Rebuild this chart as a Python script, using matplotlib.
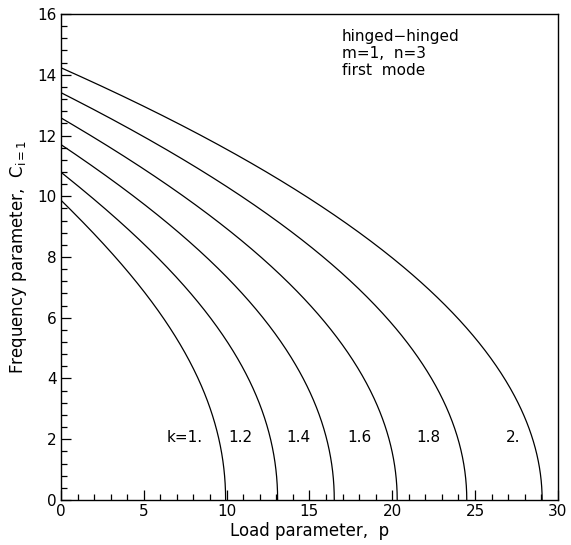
import matplotlib
matplotlib.use("Agg")
import matplotlib.pyplot as plt
import numpy as np
from matplotlib.ticker import MultipleLocator

# k values and curve data: load parameter p vs frequency parameter C
k_labels = ["k=1.", "1.2", "1.4", "1.6", "1.8", "2."]

p_k10 = [0.0, 1.6, 3.26, 6.18, 7.38, 8.29, 9.0, 9.56, 9.85, 9.94]
c_k10 = [9.87, 9.0, 8.0, 6.0, 4.93, 4.0, 3.0, 2.0, 1.0, 0.0]

p_k12 = [0.0, 1.75, 3.8, 5.77, 9.09, 10.3, 11.31, 12.08, 12.7, 12.99, 13.08]
c_k12 = [10.79, 10.0, 9.05, 8.0, 6.0, 4.93, 4.0, 3.0, 2.0, 1.0, 0.0]

p_k14 = [0.0, 2.0, 4.37, 8.79, 12.21, 13.58, 14.63, 15.43, 16.1, 16.4, 16.5]
c_k14 = [11.7, 10.95, 10.0, 8.0, 6.0, 4.93, 4.0, 3.0, 2.0, 1.0, 0.0]

p_k16 = [0.0, 1.65, 4.5, 7.48, 12.11, 15.73, 17.14, 18.3, 19.12, 19.86, 20.19, 20.3]
c_k16 = [12.58, 12.0, 11.05, 10.0, 8.0, 6.0, 4.93, 4.0, 3.0, 2.0, 1.0, 0.0]

p_k18 = [0.0, 2.4, 4.77, 7.8, 10.9, 14.42, 15.83, 19.66, 21.16, 22.35, 23.25, 24.08, 24.4, 24.5]
c_k18 = [13.41, 12.75, 12.0, 11.05, 10.0, 8.68, 8.0, 6.0, 4.93, 4.0, 3.0, 2.0, 1.0, 0.0]

p_k20 = [0.0, 3.0, 6.0, 8.39, 11.4, 14.73, 17.0, 19.96, 22.0, 23.98, 25.5, 26.85, 27.8, 28.55, 28.93, 29.05]
c_k20 = [14.23, 13.55, 12.7, 12.0, 11.15, 10.0, 9.1, 8.0, 7.1, 6.0, 4.93, 4.0, 3.0, 2.0, 1.0, 0.0]

label_p = [7.48, 10.86, 14.33, 18.0, 22.2, 27.28]
label_c = [2.05, 2.05, 2.05, 2.05, 2.05, 2.05]

curves = [(p_k10, c_k10), (p_k12, c_k12), (p_k14, c_k14),
          (p_k16, c_k16), (p_k18, c_k18), (p_k20, c_k20)]


def smooth_path(p, c, n=400):
    """Least-squares smooth drawing path through the read points: p as a function of C,
    with a vertical tangent at C = 0 (terms 1, C^2, C^3, C^4)."""
    p = np.asarray(p, float)
    c = np.asarray(c, float)
    A = np.column_stack([np.ones_like(c), c**2, c**3, c**4])
    w = np.ones_like(c)
    w[0] = w[-1] = 20.0
    coef, *_ = np.linalg.lstsq(A * w[:, None], p * w, rcond=None)
    cs = np.linspace(0, c.max(), n)
    ps = coef[0] + coef[1] * cs**2 + coef[2] * cs**3 + coef[3] * cs**4
    return ps, cs


fig = plt.figure(figsize=(5.71, 5.45), dpi=100)
ax = fig.add_axes([0.1068, 0.0826, 0.8702, 0.8917])

for p, c in curves:
    xs, ys = smooth_path(p, c)
    ax.plot(xs, ys, color="black", lw=0.9)

for txt, x, y in zip(k_labels, label_p, label_c):
    ax.text(x, y, txt, ha="center", va="center", fontsize=11)

ax.text(16.94, 14.7, "hinged\u2212hinged\nm=1,  n=3\nfirst  mode",
        ha="left", va="center", fontsize=11, linespacing=1.15)

ax.set_xlim(0, 30)
ax.set_ylim(0, 16)
ax.xaxis.set_major_locator(MultipleLocator(5))
ax.xaxis.set_minor_locator(MultipleLocator(1))
ax.yaxis.set_major_locator(MultipleLocator(2))
ax.yaxis.set_minor_locator(MultipleLocator(0.4))
ax.tick_params(which="both", direction="in", top=False, right=False,
               labelsize=11, width=0.9, pad=3)
ax.tick_params(which="major", length=7)
ax.tick_params(which="minor", length=4)
for s in ax.spines.values():
    s.set_linewidth(1.0)

ax.set_xlabel("Load parameter,  p", fontsize=12, labelpad=2)
ax.set_ylabel(r"Frequency parameter,  $\mathregular{C_{i=1}}$", fontsize=12, labelpad=6)

fig.savefig("out.png", dpi=100)
